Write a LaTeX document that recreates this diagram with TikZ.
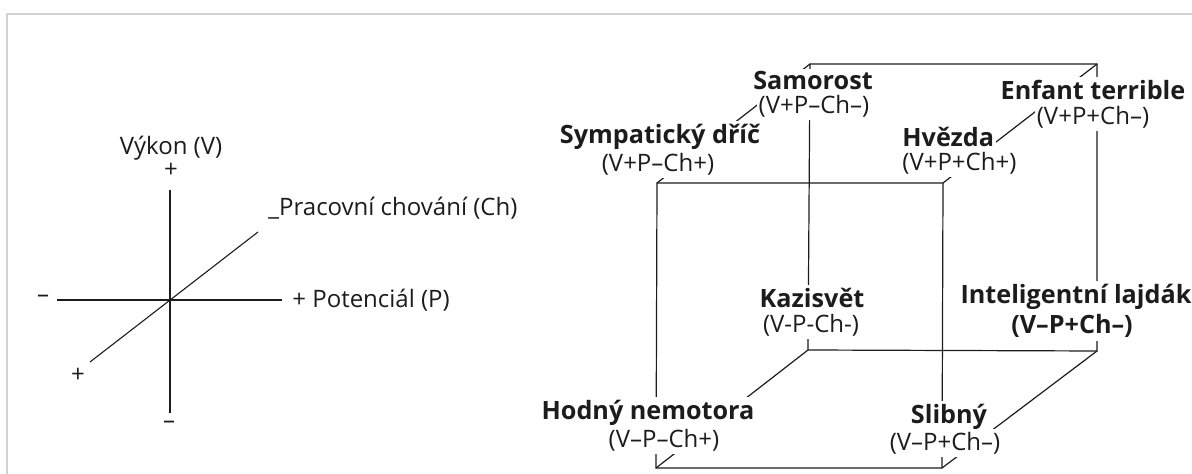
\documentclass[tikz,border=0pt]{standalone}
\usepackage{fontspec}
\setmainfont{Open Sans}
\usetikzlibrary{positioning}
\usepackage{xcolor}
\definecolor{frame}{HTML}{D2D2D2}
\definecolor{ink}{HTML}{1C1C1C}

\begin{document}
\begin{tikzpicture}[x=0.5pt, y=-0.5pt,
  axis/.style={
    ink,
    line width=0.55pt
  },
  edge/.style={
    ink,
    line width=0.6pt
  },
  typename/.style={
    fill=white,
    inner xsep=1pt,
    inner ysep=1.5pt,
    text=ink,
    font=\fontsize{12.6}{14}\selectfont\bfseries
  },
  typecode/.style={
    fill=white,
    inner xsep=1pt,
    inner ysep=1.5pt,
    text=ink,
    font=\fontsize{12}{14}\selectfont
  },
  axislabel/.style={
    inner sep=0pt,
    text=ink,
    font=\fontsize{12}{14}\selectfont
  }
  ]
  \useasboundingbox (0,0) rectangle (1192,474);

  % frame
  \draw[frame, line width=0.6pt] (7,474) -- (7,14) -- (1192,14);

  % axes
  \begin{scope}
    \coordinate (v-top) at (170,190);
    \coordinate (v-bot) at (170,413);
    \coordinate (p-left) at (57,300);
    \coordinate (p-right) at (282,300);
    \coordinate (ch-near) at (90,362);
    \coordinate (ch-far) at (258,232);

    \draw[axis] (v-top) -- (v-bot);
    \draw[axis] (p-left) -- (p-right);
    \draw[axis] (ch-near) -- (ch-far);

    \node[axislabel] (v-name) at (171,148) {Výkon (V)};
    \node[axislabel] (v-plus) at (171,170) {+};
    \node[axislabel] (v-minus) at (169,425) {–};
    \node[axislabel] (p-minus) at (43,299) {–};
    \node[axislabel, anchor=west] (p-name) at (292,300) {+ Potenciál (P)};
    \node[axislabel] (ch-plus) at (78,375) {+};
    \node[axislabel, anchor=west] (ch-name) at (268,208) {\_Pracovní chování (Ch)};
  \end{scope}

  % cube
  \begin{scope}
    \coordinate (front-tl) at (657,183);
    \coordinate (front-tr) at (943,183);
    \coordinate (front-br) at (942,468);
    \coordinate (front-bl) at (656,468);
    \coordinate (back-tl) at (810,64);
    \coordinate (back-tr) at (1097,64);
    \coordinate (back-br) at (1097,351);
    \coordinate (back-bl) at (808,350);

    \draw[edge] (front-tl) -- (front-tr) -- (front-br) -- (front-bl) -- cycle;
    \draw[edge] (back-tl) -- (back-tr) -- (back-br) -- (back-bl) -- cycle;
    \draw[edge] (front-tl) -- (back-tl);
    \draw[edge] (front-tr) -- (back-tr);
    \draw[edge] (front-br) -- (back-br);
    \draw[edge] (front-bl) -- (back-bl);
  \end{scope}

  % types
  \node[typename] (samorost) at (813,81) {Samorost};
  \node[typecode] (samorost-code) at (814,106) {(V+P–Ch–)};

  \node[typename] (sympaticky) at (660,137) {Sympatický dříč};
  \node[typecode] (sympaticky-code) at (658,164) {(V+P–Ch+)};

  \node[typename] (enfant) at (1093,90) {Enfant terrible};
  \node[typecode] (enfant-code) at (1093,117) {(V+P+Ch–)};

  \node[typename, anchor=west] (hvezda) at (900,137) {Hvězda};
  \node[typecode, anchor=west] (hvezda-code) at (900,163) {(V+P+Ch+)};

  \node[typename] (kazisvet) at (812,298) {Kazisvět};
  \node[typecode] (kazisvet-code) at (811,325) {(V-P-Ch-)};

  \node[typename] (lajdak) at (1076,297) {Inteligentní lajdák};
  \node[typename] (lajdak-code) at (1072,326) {(V–P+Ch–)};

  \node[typename] (hodny) at (648,413) {Hodný nemotora};
  \node[typecode] (hodny-code) at (664,440) {(V–P–Ch+)};

  \node[typename] (slibny) at (949,417) {Slibný};
  \node[typecode] (slibny-code) at (945,443) {(V–P+Ch–)};

\end{tikzpicture}
\end{document}
